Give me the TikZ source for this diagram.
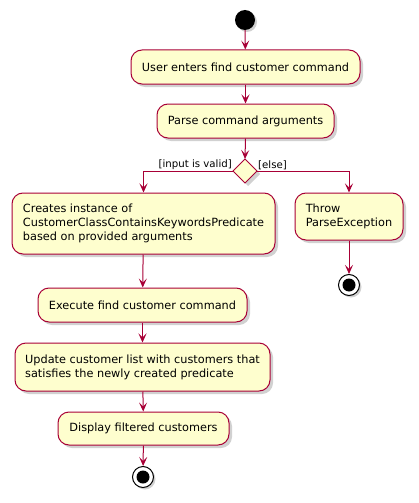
\documentclass[tikz,border=0pt]{standalone}
\usepackage{fontspec}
\setmainfont{DejaVu Sans}
\usetikzlibrary{arrows.meta,shadows}
\definecolor{actfill}{HTML}{FEFECE}
\definecolor{actline}{HTML}{A80036}
\tikzset{
  act/.style={draw=actline, fill=actfill, line width=1pt, rounded corners=11pt,
    font=\fontsize{11.3}{14}\selectfont, align=left, inner sep=0pt,
    drop shadow={shadow xshift=3pt, shadow yshift=-3pt, opacity=0.18, fill=black}},
  flow/.style={draw=actline, line width=1pt, -{Stealth[length=9pt,width=8pt,inset=4pt]}},
  guard/.style={font=\fontsize{10.2}{12}\selectfont, inner sep=1pt},
  startdot/.style={circle, fill=black, minimum size=20pt, inner sep=0pt,
    drop shadow={shadow xshift=2pt, shadow yshift=-2pt, opacity=0.18, fill=black}},
  stopring/.style={circle, draw=black, fill=white, line width=1pt, minimum size=21pt, inner sep=0pt,
    drop shadow={shadow xshift=2pt, shadow yshift=-2pt, opacity=0.18, fill=black}},
  stopdot/.style={circle, fill=black, minimum size=13pt, inner sep=0pt},
  decide/.style={draw=actline, fill=actfill, line width=1pt, shape=diamond-free}
}
\begin{document}
\begin{tikzpicture}[x=1pt,y=-1pt]
\useasboundingbox (0,0) rectangle (419,503);
\node[startdot] (start) at (245,20) {};
\node[act, minimum width=229pt, minimum height=34pt] (b1) at (245.5,67) {User enters find customer command};
\node[act, minimum width=177pt, minimum height=34pt] (b2) at (245.5,121) {Parse command arguments};
% decision diamond
\coordinate (dc) at (245,171);
\fill[black, opacity=0.18] (248,162) -- (260,174) -- (248,186) -- (236,174) -- cycle;
\draw[draw=actline, fill=actfill, line width=1pt] (245,159) coordinate (dn) -- (257,171) coordinate (de) -- (245,183) coordinate (ds) -- (233,171) coordinate (dw) -- cycle;
\node[act, minimum width=263pt, minimum height=61pt] (b3) at (143.5,223.5) {Creates instance of\\CustomerClassContainsKeywordsPredicate\\based on provided arguments};
\node[act, minimum width=108pt, minimum height=47pt] (b4) at (349,216.5) {Throw\\ParseException};
\node[stopring] (stop2) at (349,285) {};
\node[stopdot] (stop2in) at (349,285) {};
\node[act, minimum width=209pt, minimum height=34pt] (b5) at (142.5,305) {Execute find customer command};
\node[act, minimum width=255pt, minimum height=48pt] (b6) at (142.5,367) {Update customer list with customers that\\satisfies the newly created predicate};
\node[act, minimum width=171pt, minimum height=33pt] (b7) at (143.5,428.5) {Display filtered customers};
\node[stopring] (stop1) at (143,477) {};
\node[stopdot] (stop1in) at (143,477) {};
% connectors
\draw[flow] (start) -- (b1);
\draw[flow] (b1) -- (b2);
\draw[flow] (b2.south) -- (dn);
\draw[flow] (dw) -| (b3.north);
\draw[flow] (de) -| (b4.north);
\draw[flow] (b3) -- (b5);
\draw[flow] (b5) -- (b6);
\draw[flow] (b6) -- (b7);
\draw[flow] (b7) -- (stop1);
\draw[flow] (b4) -- (stop2);
\node[guard, anchor=south east] (g1) at (dw) {[input is valid]};
\node[guard, anchor=south west] (g2) at (de) {[else]};
\end{tikzpicture}
\end{document}
